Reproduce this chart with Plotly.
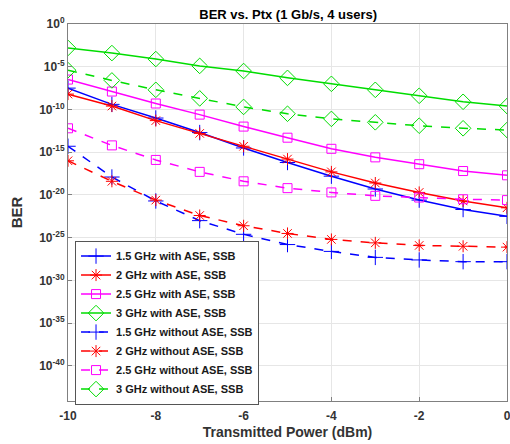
import plotly.graph_objects as go

x_dbm = [-10, -9, -8, -7, -6, -5, -4, -3, -2, -1, 0]

# log10(BER) values
ber_15_ase = [-7.5, -9.4, -11.0, -12.7, -14.5, -16.2, -17.8, -19.3, -20.6, -21.7, -22.5]
ber_2_ase = [-8.2, -9.6, -11.3, -12.8, -14.3, -15.8, -17.3, -18.6, -19.7, -20.7, -21.5]
ber_25_ase = [-6.5, -7.9, -9.3, -10.6, -12.0, -13.3, -14.6, -15.6, -16.4, -17.2, -17.7]
ber_3_ase = [-2.8, -3.4, -4.1, -4.9, -5.5, -6.3, -7.0, -7.7, -8.4, -9.1, -9.6]
ber_15_noase = [-14.3, -17.9, -20.7, -23.0, -24.6, -25.8, -26.6, -27.3, -27.6, -27.8, -27.8]
ber_2_noase = [-16.0, -18.4, -20.6, -22.4, -23.6, -24.5, -25.2, -25.6, -25.9, -26.0, -26.1]
ber_25_noase = [-12.2, -14.2, -15.9, -17.3, -18.4, -19.2, -19.7, -20.1, -20.3, -20.5, -20.6]
ber_3_noase = [-5.4, -6.6, -7.7, -8.7, -9.7, -10.5, -11.1, -11.5, -11.9, -12.2, -12.4]

names = [
    "1.5 GHz with ASE, SSB", "2 GHz with ASE, SSB", "2.5 GHz with ASE, SSB", "3 GHz with ASE, SSB",
    "1.5 GHz without ASE, SSB", "2 GHz without ASE, SSB", "2.5 GHz without ASE, SSB", "3 GHz without ASE, SSB",
]
series = [ber_15_ase, ber_2_ase, ber_25_ase, ber_3_ase,
          ber_15_noase, ber_2_noase, ber_25_noase, ber_3_noase]
colors = ["#0000FF", "#FF0000", "#FF00FF", "#00DD00"] * 2
symbols = ["cross-thin-open", "asterisk-open", "square-open", "diamond-open"] * 2
msizes = [11, 10, 9, 12] * 2
dashes = ["solid"] * 4 + ["dash"] * 4

xtick_vals = [-10, -8, -6, -4, -2, 0]
ytick_exp = [0, -5, -10, -15, -20, -25, -30, -35, -40]

fig = go.Figure()
for name, s, c, sym, ms, d in zip(names, series, colors, symbols, msizes, dashes):
    fig.add_trace(go.Scatter(
        x=x_dbm, y=[10 ** v for v in s], name=name, mode="lines+markers",
        line=dict(color=c, width=1.5, dash=d),
        marker=dict(symbol=sym, size=ms, color=c, line=dict(color=c, width=1)),
    ))

font_family = "Liberation Sans, Arial, sans-serif"
fig.update_layout(
    width=510, height=444,
    margin=dict(l=68, r=3, t=24, b=43, autoexpand=False),
    paper_bgcolor="white", plot_bgcolor="white",
    font=dict(family=font_family, color="#262626"),
    title=dict(text="BER vs. Ptx (1 Gb/s, 4 users)", x=0.565, xanchor="center",
               y=0.968, yanchor="middle", font=dict(size=13, color="#000000", weight="bold")),
    showlegend=True,
    legend=dict(x=0.016, y=0.4255, xanchor="left", yanchor="top",
                bgcolor="white", bordercolor="#555555", borderwidth=1,
                font=dict(size=11, color="#1a1a1a", weight="bold"), tracegroupgap=0,
                itemwidth=30),
    xaxis=dict(range=[-10, 0], tickvals=xtick_vals,
               ticktext=[str(v) for v in xtick_vals],
               ticklabeloverflow="allow", automargin=False, ticklabelstandoff=4,
               showgrid=True, gridcolor="#e6e6e6", gridwidth=1,
               showline=True, linecolor="#808080", linewidth=1, mirror=True,
               ticks="inside", ticklen=4, tickcolor="#808080",
               tickfont=dict(size=12, color="#333333", weight="bold"),
               title=dict(text="Transmitted Power (dBm)", font=dict(size=14, color="#333333", weight="bold"), standoff=4),
               zeroline=False),
    yaxis=dict(type="log", range=[-44.1, 0],
               tickvals=[10 ** e for e in ytick_exp],
               ticktext=["10<sup>%d</sup>" % e for e in ytick_exp],
               automargin=False,
               showgrid=True, gridcolor="#e6e6e6", gridwidth=1,
               showline=True, linecolor="#808080", linewidth=1, mirror=True,
               ticks="inside", ticklen=4, tickcolor="#808080",
               tickfont=dict(size=12, color="#333333", weight="bold"),
               title=dict(text="BER", font=dict(size=15, color="#333333", weight="bold"), standoff=12),
               zeroline=False),
)

fig.write_html("out.html", config={"displayModeBar": False},
               post_script="document.body.style.margin='0';")
